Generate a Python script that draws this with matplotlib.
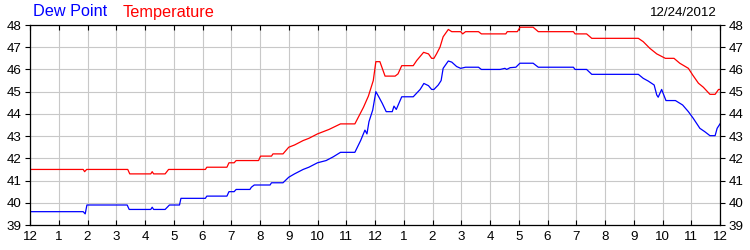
import matplotlib
matplotlib.use("Agg")
from matplotlib import pyplot as plt

plt.rcParams['font.family'] = ['Liberation Sans', 'DejaVu Sans']

# hours after midnight and readings (deg F)
temp_hours = [0, 1.85, 1.9, 1.97, 3.4, 3.47, 4.2, 4.25, 4.3, 4.7, 4.82, 6.1, 6.15, 6.85,
              6.92, 7.1, 7.17, 7.95, 8.02, 8.4, 8.45, 8.8, 9.0, 9.2, 9.5, 9.7, 10.0, 10.4,
              10.8, 11.3, 11.6, 11.77, 11.94, 12.03, 12.17, 12.35, 12.7, 12.8, 12.93, 13.33,
              13.45, 13.69, 13.86, 13.97, 14.05, 14.14, 14.26, 14.37, 14.55, 14.67, 14.98,
              15.05, 15.15, 15.6, 15.7, 16.55, 16.6, 16.95, 17.05, 17.5, 17.68, 18.9, 18.96,
              19.36, 19.54, 21.16, 21.33, 21.56, 21.8, 22.1, 22.4, 22.6, 22.9, 23.05, 23.25,
              23.42, 23.65, 23.83, 23.95, 24]
temp_vals = [41.5, 41.5, 41.4, 41.5, 41.5, 41.3, 41.3, 41.4, 41.3, 41.3, 41.5, 41.5, 41.6, 41.6,
             41.8, 41.8, 41.9, 41.9, 42.1, 42.1, 42.2, 42.2, 42.5, 42.6, 42.8, 42.9, 43.1, 43.3,
             43.55, 43.55, 44.3, 44.8, 45.5, 46.35, 46.35, 45.7, 45.7, 45.8, 46.17, 46.17,
             46.4, 46.77, 46.7, 46.5, 46.5, 46.7, 47.0, 47.47, 47.8, 47.7, 47.7,
             47.6, 47.7, 47.7, 47.6, 47.6, 47.7, 47.7, 47.9, 47.9, 47.7, 47.7, 47.6,
             47.6, 47.4, 47.4, 47.25, 46.95, 46.7, 46.5, 46.5, 46.28, 46.05, 45.75, 45.38,
             45.2, 44.88, 44.88, 45.1, 45.1]

dew_hours = [0, 1.85, 1.92, 1.98, 3.38, 3.45, 4.2, 4.25, 4.3, 4.7, 4.85, 5.2, 5.25, 6.1,
             6.15, 6.85, 6.92, 7.1, 7.17, 7.65, 7.7, 7.8, 8.35, 8.4, 8.8, 9.0, 9.2, 9.5, 9.7,
             10.0, 10.3, 10.55, 10.8, 11.3, 11.5, 11.65, 11.72, 11.79, 11.92, 12.03, 12.13,
             12.25, 12.39, 12.6, 12.66, 12.74, 12.93, 13.33, 13.57, 13.7, 13.86, 13.97, 14.05,
             14.2, 14.3, 14.37, 14.55, 14.67, 14.84, 14.98, 15.15, 15.6, 15.7, 16.35, 16.52,
             16.58, 16.7, 16.9, 17.04, 17.5, 17.68, 18.9, 18.96, 19.36, 19.54, 21.16, 21.33,
             21.5, 21.71, 21.8, 21.85, 21.97, 22.12, 22.45, 22.7, 22.9, 23.07, 23.3, 23.47,
             23.65, 23.83, 23.9, 24]
dew_vals = [39.6, 39.6, 39.5, 39.9, 39.9, 39.7, 39.7, 39.8, 39.7, 39.7, 39.9, 39.9, 40.2, 40.2,
            40.3, 40.3, 40.5, 40.5, 40.6, 40.6, 40.7, 40.8, 40.8, 40.9, 40.9, 41.15, 41.3, 41.5, 41.6,
            41.8, 41.9, 42.07, 42.27, 42.27, 42.8, 43.27, 43.1, 43.65, 44.17, 45.0, 44.77,
            44.48, 44.1, 44.1, 44.35, 44.2, 44.77, 44.77, 45.1, 45.37, 45.27, 45.1, 45.1,
            45.3, 45.5, 46.05, 46.38, 46.33, 46.13, 46.05, 46.1, 46.1, 46.0, 46.0, 46.05,
            46.0, 46.08, 46.1, 46.28, 46.28, 46.1, 46.1, 46.0, 46.0, 45.78, 45.78, 45.6,
            45.48, 45.3, 44.85, 44.75, 45.1, 44.6, 44.6, 44.4, 44.1, 43.8, 43.35, 43.2,
            43.02, 43.02, 43.35, 43.55]

hour_labels = ["12", "1", "2", "3", "4", "5", "6", "7", "8", "9", "10", "11",
               "12", "1", "2", "3", "4", "5", "6", "7", "8", "9", "10", "11", "12"]
y_ticks = [39, 40, 41, 42, 43, 44, 45, 46, 47, 48]

fig = plt.figure(figsize=(7.5, 2.5), dpi=100)
ax = fig.add_axes([30 / 750, 25 / 250, 690 / 750, 200 / 250])

ax.plot(temp_hours, temp_vals, color="#ff0000", lw=0.9)
ax.plot(dew_hours, dew_vals, color="#0000ff", lw=0.9)

ax.set_xlim(0, 24)
ax.set_ylim(39, 48)
ax.set_xticks(range(25))
ax.set_xticklabels(hour_labels)
ax.set_yticks(y_ticks)
ax.grid(True, color="#c8c8c8", lw=0.8)
ax.set_axisbelow(True)

ax.tick_params(axis="x", direction="in", top=True, bottom=True, length=3.6, width=0.8,
               labelsize=9.6, pad=4.5)
ax.tick_params(axis="y", direction="out", left=True, right=True, labelright=True,
               length=3.6, width=0.8, labelsize=9.6, pad=2.5)
for s in ax.spines.values():
    s.set_color("black")
    s.set_linewidth(0.9)

fig.text(33 / 750, 1 - 12 / 250, "Dew Point", color="#0000ff", fontsize=11.7, va="center")
fig.text(123 / 750, 1 - 12 / 250, "Temperature", color="#ff0000", fontsize=11.7, va="center")
fig.text(717 / 750, 1 - 13 / 250, "12/24/2012", color="black", fontsize=9.6,
         va="center", ha="right")

plt.savefig("out.png", dpi=100)
